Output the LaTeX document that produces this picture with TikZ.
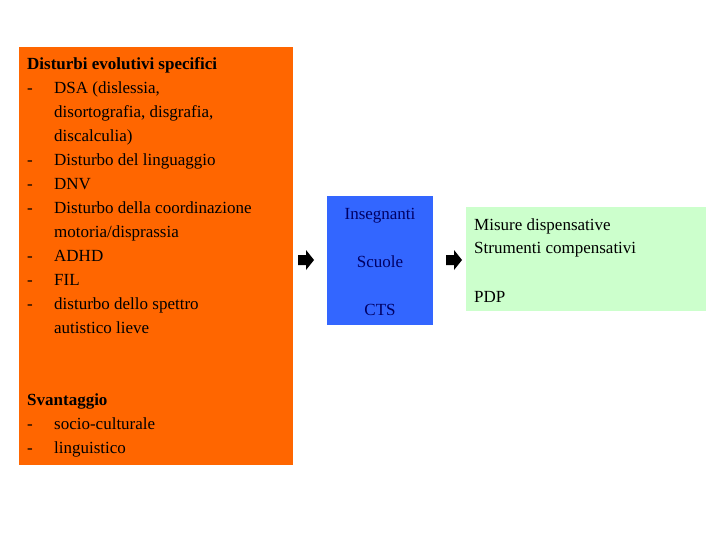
\documentclass[tikz,border=0pt]{standalone}
\usepackage{fontspec}
\setmainfont{Liberation Serif}
\begin{document}
\begin{tikzpicture}[x=1pt,y=-1pt,
  txt/.style={anchor=base west,inner sep=0pt,font=\fontsize{17}{24}\selectfont},
  arr/.style={fill=black}]
\useasboundingbox (0,0) rectangle (720,540);
\node[fill={rgb,255:red,255;green,102;blue,0},minimum width=274pt,minimum height=418pt,inner sep=0pt,anchor=north west] (orange) at (19,47) {};
\node[fill={rgb,255:red,51;green,102;blue,255},minimum width=106pt,minimum height=129pt,inner sep=0pt,anchor=north west] (blue) at (327,196) {};
\node[fill={rgb,255:red,204;green,255;blue,204},minimum width=240pt,minimum height=104pt,inner sep=0pt,anchor=north west] (green) at (466,207) {};
\node[txt,align=left,anchor=north west] (list) at (27,57) {\textbf{Disturbi evolutivi specifici}\\
\makebox[27pt][l]{-}DSA (dislessia,\\
\makebox[27pt][l]{}disortografia, disgrafia,\\
\makebox[27pt][l]{}discalculia)\\
\makebox[27pt][l]{-}Disturbo del linguaggio\\
\makebox[27pt][l]{-}DNV\\
\makebox[27pt][l]{-}Disturbo della coordinazione\\
\makebox[27pt][l]{}motoria/disprassia\\
\makebox[27pt][l]{-}ADHD\\
\makebox[27pt][l]{-}FIL\\
\makebox[27pt][l]{-}disturbo dello spettro\\
\makebox[27pt][l]{}autistico lieve\\
\mbox{}\\
\mbox{}\\
\textbf{Svantaggio}\\
\makebox[27pt][l]{-}socio-culturale\\
\makebox[27pt][l]{-}linguistico};
\begin{scope}[every node/.style={txt,anchor=base,text={rgb,255:red,0;green,0;blue,100}}]
\node (ins) at (380,219) {Insegnanti};
\node (scu) at (380,267) {Scuole};
\node (cts) at (380,315) {CTS};
\end{scope}
\node[txt] (mis) at (474,230) {Misure dispensative};
\node[txt] (str) at (474,254) {Strumenti compensativi};
\node[txt] (pdp) at (474,302) {PDP};
\coordinate (a1) at (298,260);
\coordinate (a2) at (446,260);
\foreach \c in {a1,a2}
  \fill ([shift={(0,-5)}]\c) -- ++(8,0) -- ++(0,-5) -- ++(8,10) -- ++(-8,10) -- ++(0,-5) -- ++(-8,0) -- cycle;
\end{tikzpicture}
\end{document}
